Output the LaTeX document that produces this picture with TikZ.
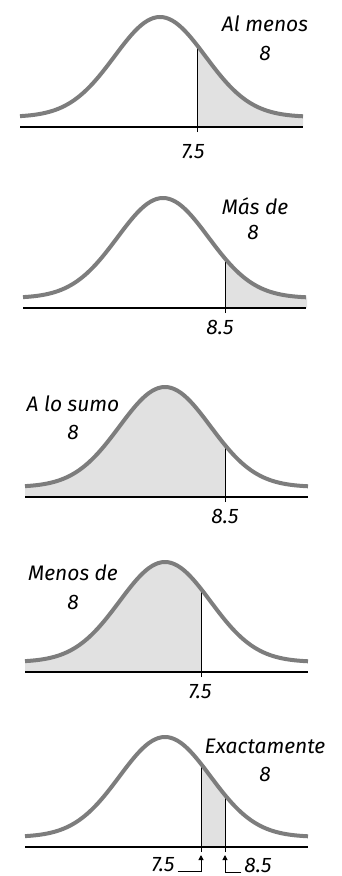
\documentclass[tikz,border=0pt]{standalone}
\usepackage{fontspec}
\usepackage{tikz}
\usetikzlibrary{arrows.meta,positioning}
\newfontfamily\hand{Fira Sans}
\definecolor{curvegray}{RGB}{125,125,125}
\definecolor{areagray}{RGB}{225,225,225}

% bell over an axis: mu, axis y, shaded from, shaded to (relative to mu)
\newcommand{\campana}[4]{%
 \begin{scope}[shift={(#1,#2)}]
  \fill[sombra] (#3,0) -- plot[domain=#3:#4,samples=60] (\x,{-bell(\x)}) -- (#4,0) -- cycle;
  \draw[eje] (-140,0) -- (143,0);
 \end{scope}}
\newcommand{\curva}[2]{%
 \draw[curva,shift={(#1,#2)}] plot[domain=-140:143,samples=90] (\x,{-bell(\x)});}
% cut line at dx from mu
\newcommand{\corte}[3]{%
 \draw[cortelin,shift={(#1,#2)}] (#3,5) -- (#3,{-bell(#3)});}

\begin{document}
\begin{tikzpicture}[x=1pt,y=-1pt,>={Triangle[length=5pt,width=5pt]},
 declare function={bell(\x)=10+100*exp(-0.5*((\x)/45.5)^2);},
 sombra/.style={fill=areagray},
 eje/.style={draw=black,line width=1.1pt},
 curva/.style={draw=curvegray,line width=4pt},
 cortelin/.style={draw=black,line width=1pt},
 lbl/.style={font=\hand\itshape\fontsize{21}{23}\selectfont,inner sep=0pt}]
\useasboundingbox (0,0) rectangle (341,876);
% Al menos 8
\campana{160}{127}{37}{143}
\corte{160}{127}{37}
\curva{160}{127}
\node[lbl] (t1) at (265,24) {Al menos};
\node[lbl] (n1) at (265,53) {8};
\node[lbl] (v1) at (193,152) {7.5};
% Mas de 8
\campana{163}{308}{62}{144}
\corte{163}{308}{62}
\curva{163}{308}
\node[lbl] (t2) at (255,206) {Más de};
\node[lbl] (n2) at (253,232) {8};
\node[lbl] (v2) at (220,327) {8.5};
% A lo sumo 8
\campana{165}{497}{-140}{60}
\corte{165}{497}{60}
\curva{165}{497}
\node[lbl] (t3) at (73,404) {A lo sumo};
\node[lbl] (n3) at (73,432) {8};
\node[lbl] (v3) at (225,516) {8.5};
% Menos de 8
\campana{165}{672}{-140}{36}
\corte{165}{672}{36}
\curva{165}{672}
\node[lbl] (t4) at (73,573) {Menos de};
\node[lbl] (n4) at (73,602) {8};
\node[lbl] (v4) at (200,692) {7.5};
% Exactamente 8
\campana{165}{847}{36}{60}
\corte{165}{847}{36}
\corte{165}{847}{60}
\curva{165}{847}
\node[lbl] (t5) at (265,746) {Exactamente};
\node[lbl] (n5) at (265,774) {8};
\node[lbl] (v5a) at (163,865) {7.5};
\node[lbl] (v5b) at (258,865) {8.5};
\coordinate (a75) at (201,855);
\coordinate (a85) at (225,855);
\draw[->,line width=1pt] ([xshift=3pt]v5a.base east) -| (a75);
\draw[->,line width=1pt] ([xshift=-3pt]v5b.base west) -| (a85);
\end{tikzpicture}
\end{document}
